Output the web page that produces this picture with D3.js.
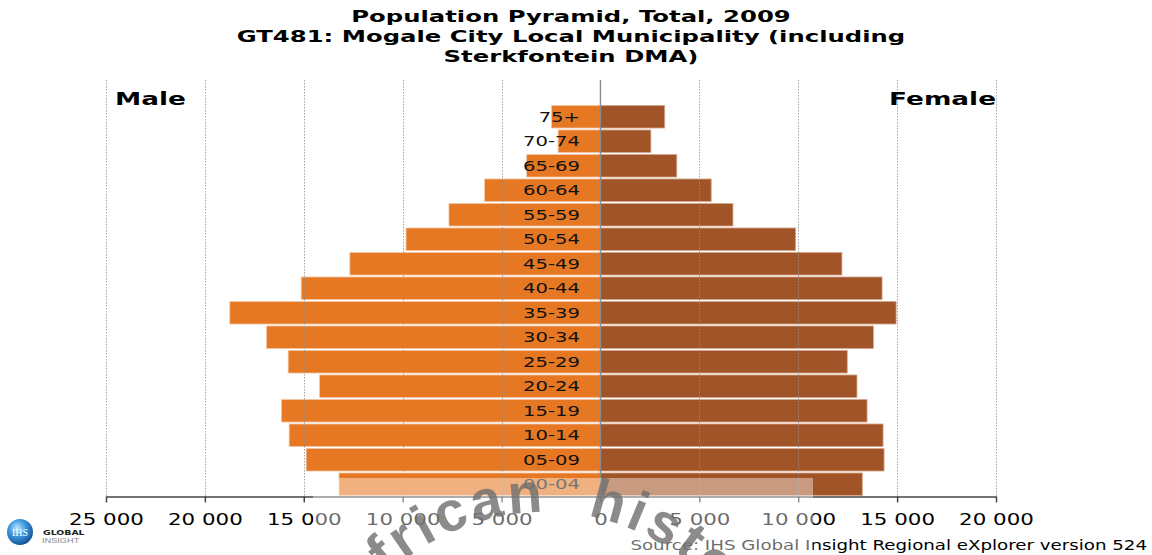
<!DOCTYPE html>
<html>
<head>
<meta charset="utf-8">
<script src="https://cdn.jsdelivr.net/npm/d3@7"></script>
<style>
  html, body { margin: 0; padding: 0; background: #fff; }
  svg { display: block; }
</style>
</head>
<body>
<script>
// Age groups, top of the pyramid first
const ageGroups = ["75+", "70-74", "65-69", "60-64", "55-59", "50-54", "45-49", "40-44",
                   "35-39", "30-34", "25-29", "20-24", "15-19", "10-14", "05-09", "00-04"];
// Population counts per age group
const maleValues   = [2480, 2140, 3730, 5860, 7660, 9830, 12670, 15130,
                      18740, 16890, 15790, 14200, 16130, 15740, 14880, 13220];
const femaleValues = [3250, 2550, 3860, 5600, 6700, 9870, 12210, 14240,
                      14950, 13800, 12480, 12970, 13480, 14290, 14340, 13240];
// Axis ticks (male side drawn as negative values)
const tickValues = [-25000, -20000, -15000, -10000, -5000, 0, 5000, 10000, 15000, 20000];
const titleLines = ["Population Pyramid, Total, 2009",
                    "GT481: Mogale City Local Municipality (including",
                    "Sterkfontein DMA)"];
const sideLabels = ["Male", "Female"];
const sourceText = "Source: IHS Global Insight Regional eXplorer version 524";
const watermarkWords = ["african", "history"];

const W = 1152, H = 555;
const FONT = "'DejaVu Sans', Verdana, sans-serif";
const maleColor = "#E67824", femaleColor = "#A15427";

const svg = d3.select("body").append("svg")
  .attr("width", W).attr("height", H)
  .attr("viewBox", `0 0 ${W} ${H}`);

const x = d3.scaleLinear().domain([-25000, 20000]).range([106, 996]);
const y = d3.scaleBand().domain(ageGroups).range([104.5, 496.5])
  .paddingInner(0.08).paddingOuter(0.04);
const plotTop = 80, plotBottom = 496.5;

// horizontally widened text, as in the exported chart
function wideText(parent, px, py, str, sx, size, weight, anchor, fill) {
  return parent.append("text")
    .attr("transform", `translate(${px},${py}) scale(${sx},1)`)
    .attr("text-anchor", anchor)
    .style("font-family", FONT)
    .style("font-size", size + "px")
    .style("font-weight", weight)
    .style("fill", fill)
    .text(str);
}

// Title
titleLines.forEach((t, i) => {
  wideText(svg, 571, 21.5 + i * 20.2, t, 1.52, 16, "bold", "middle", "#000");
});

// Bars
const bars = svg.append("g");
bars.selectAll("rect.male").data(ageGroups).join("rect")
  .attr("class", "male")
  .attr("x", (d, i) => x(-maleValues[i]))
  .attr("width", (d, i) => x(0) - x(-maleValues[i]))
  .attr("y", d => y(d))
  .attr("height", y.bandwidth())
  .attr("fill", maleColor)
  .attr("stroke", "#f3c9a6").attr("stroke-width", 0.8);
bars.selectAll("rect.female").data(ageGroups).join("rect")
  .attr("class", "female")
  .attr("x", x(0))
  .attr("width", (d, i) => x(femaleValues[i]) - x(0))
  .attr("y", d => y(d))
  .attr("height", y.bandwidth())
  .attr("fill", femaleColor)
  .attr("stroke", "#d8a88e").attr("stroke-width", 0.8);

// Dotted vertical gridlines
svg.append("g").selectAll("line").data(tickValues.filter(v => v !== 0)).join("line")
  .attr("x1", d => Math.round(x(d)) + 0.5).attr("x2", d => Math.round(x(d)) + 0.5)
  .attr("y1", plotTop).attr("y2", plotBottom)
  .attr("stroke", "#8f8f8f").attr("stroke-width", 1)
  .attr("stroke-dasharray", "1.5,1.5").attr("opacity", 0.8);

// Centre line
svg.append("line")
  .attr("x1", x(0)).attr("x2", x(0))
  .attr("y1", plotTop).attr("y2", plotBottom)
  .attr("stroke", "#8a8a8a").attr("stroke-width", 1.4);

// Age group labels
svg.append("g").selectAll("text").data(ageGroups).join("text")
  .attr("transform", d => `translate(580,${y(d) + y.bandwidth() / 2 + 5}) scale(1.4,1)`)
  .attr("text-anchor", "end")
  .style("font-family", FONT).style("font-size", "14px").style("fill", "#111")
  .text(d => d);

// Side labels
wideText(svg, 115, 105, sideLabels[0], 1.55, 17, "bold", "start", "#000");
wideText(svg, 996, 105, sideLabels[1], 1.55, 17, "bold", "end", "#000");

// Bottom axis
const fmt = v => d3.format(",")(Math.abs(v)).replace(/,/g, " ");
const axis = svg.append("g")
  .attr("transform", `translate(0,${plotBottom})`)
  .call(d3.axisBottom(x).tickValues(tickValues).tickSize(6).tickSizeOuter(0).tickFormat(fmt));
axis.select(".domain").attr("stroke", "#444").attr("stroke-width", 1.5);
axis.selectAll(".tick line").attr("stroke", "#444").attr("stroke-width", 1.5);
axis.selectAll(".tick text")
  .attr("y", 28.5).attr("dy", 0)
  .attr("transform", "scale(1.38,1)")
  .style("font-family", FONT).style("font-size", "15.5px").style("fill", "#000");

// Source note
wideText(svg, 1147, 550, sourceText, 1.35, 13.5, "normal", "end", "#000");

// Logo
const defs = svg.append("defs");
const grad = defs.append("radialGradient").attr("id", "globe")
  .attr("cx", "40%").attr("cy", "35%").attr("r", "70%");
grad.append("stop").attr("offset", "0%").attr("stop-color", "#bfe6ff");
grad.append("stop").attr("offset", "45%").attr("stop-color", "#3d9be0");
grad.append("stop").attr("offset", "100%").attr("stop-color", "#12498f");
svg.append("circle").attr("cx", 20).attr("cy", 532).attr("r", 13).attr("fill", "url(#globe)");
svg.append("text").attr("x", 20).attr("y", 535.5).attr("text-anchor", "middle")
  .style("font-family", "'Liberation Serif', serif").style("font-size", "10px")
  .style("fill", "#fff").text("IHS");
svg.append("text").attr("transform", "translate(43,535) scale(1.25,1)")
  .style("font-family", "'DejaVu Sans', sans-serif").style("font-size", "7.5px")
  .style("font-weight", "bold").style("fill", "#222").text("GLOBAL");
svg.append("text").attr("transform", "translate(42,543) scale(1.15,1)")
  .style("font-family", "'Liberation Sans', sans-serif").style("font-size", "8px")
  .style("fill", "#888").text("INSIGHT");

// Watermark stamp: translucent panel with arched lettering
const wm = svg.append("g");
wm.append("rect").attr("x", 313).attr("y", 478).attr("width", 500).attr("height", 77)
  .attr("fill", "#fff").attr("opacity", 0.42);
const cx = 545, cy = 742, R = 230;
defs.append("path").attr("id", "wmArc")
  .attr("d", `M${cx - R},${cy} A${R},${R} 0 0 1 ${cx + R},${cy}`);
defs.append("clipPath").attr("id", "wmClip").append("rect")
  .attr("x", 313).attr("y", 440).attr("width", 500).attr("height", 115);
const wmText = wm.append("g").attr("clip-path", "url(#wmClip)");
const half = Math.PI / 2;
const endLeft = R * (half + Math.asin((547 - cx) / R));
const startRight = R * (half + Math.asin((587 - cx) / R));
wmText.append("text")
  .style("font-family", "'Liberation Sans', Arial, sans-serif").style("font-size", "56px")
  .style("font-weight", "bold").style("letter-spacing", "4px")
  .attr("fill", "#6f6f6f").attr("opacity", 0.8)
  .append("textPath").attr("href", "#wmArc")
  .attr("startOffset", endLeft).attr("text-anchor", "end")
  .text(watermarkWords[0]);
wmText.append("text")
  .style("font-family", "'Liberation Sans', Arial, sans-serif").style("font-size", "56px")
  .style("font-weight", "bold").style("letter-spacing", "4px")
  .attr("fill", "#6f6f6f").attr("opacity", 0.8)
  .append("textPath").attr("href", "#wmArc")
  .attr("startOffset", startRight).attr("text-anchor", "start")
  .text(watermarkWords[1]);
</script>
</body>
</html>
